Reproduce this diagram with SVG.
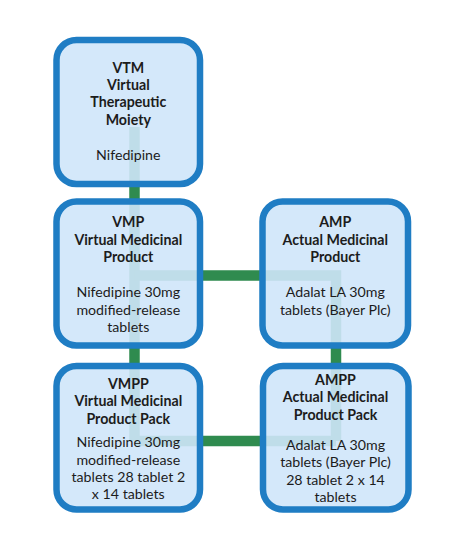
<svg xmlns="http://www.w3.org/2000/svg" width="465" height="549" viewBox="0 0 465 549">
<style>
.box{fill:#cfe6f9;fill-opacity:0.9;stroke:#1f7dc4;stroke-width:6.5}
.conn{fill:none;stroke:#2f8b4f;stroke-width:10.5}
text{font-family:Lato,"Open Sans","Liberation Sans",sans-serif;font-size:14.2px;fill:#1c1c1c;text-anchor:middle}
.b{font-weight:bold}
</style>
<rect width="465" height="549" fill="#ffffff"/>
<g id="connectors">
<path class="conn" d="M134.5,127 V441"/>
<path class="conn" d="M134.5,275.5 H336 V441"/>
<path class="conn" d="M134.5,441 H336"/>
</g>
<g id="vtm">
<rect class="box" x="56.5" y="40" width="143.5" height="144" rx="20"/>
<text class="b" x="128.3" y="73">VTM</text>
<text class="b" x="128.3" y="90">Virtual</text>
<text class="b" x="128.3" y="107">Therapeutic</text>
<text class="b" x="128.3" y="125">Moiety</text>
<text x="128.3" y="160">Nifedipine</text>
</g>
<g id="vmp">
<rect class="box" x="56.5" y="201.5" width="143.5" height="144" rx="20"/>
<text class="b" x="128.3" y="227">VMP</text>
<text class="b" x="128.3" y="244.5">Virtual Medicinal</text>
<text class="b" x="128.3" y="262">Product</text>
<text x="128.3" y="297">Nifedipine 30mg</text>
<text x="128.3" y="314.5">modified-release</text>
<text x="128.3" y="332">tablets</text>
</g>
<g id="amp">
<rect class="box" x="262.5" y="201.5" width="145.5" height="144" rx="20"/>
<text class="b" x="335.3" y="227">AMP</text>
<text class="b" x="335.3" y="244.5">Actual Medicinal</text>
<text class="b" x="335.3" y="262">Product</text>
<text x="335.3" y="297">Adalat LA 30mg</text>
<text x="335.3" y="314.5">tablets (Bayer Plc)</text>
</g>
<g id="vmpp">
<rect class="box" x="56.5" y="366" width="143.5" height="143.5" rx="20"/>
<text class="b" x="128.3" y="388.5">VMPP</text>
<text class="b" x="128.3" y="406">Virtual Medicinal</text>
<text class="b" x="128.3" y="423.5">Product Pack</text>
<text x="128.3" y="447">Nifedipine 30mg</text>
<text x="128.3" y="464.5">modified-release</text>
<text x="128.3" y="482">tablets 28 tablet 2</text>
<text x="128.3" y="499">x 14 tablets</text>
</g>
<g id="ampp">
<rect class="box" x="263" y="366" width="145.5" height="143.5" rx="20"/>
<text class="b" x="335.5" y="384.5">AMPP</text>
<text class="b" x="335.5" y="402">Actual Medicinal</text>
<text class="b" x="335.5" y="419.5">Product Pack</text>
<text x="335.5" y="449.5">Adalat LA 30mg</text>
<text x="335.5" y="467">tablets (Bayer Plc)</text>
<text x="335.5" y="484.5">28 tablet 2 x 14</text>
<text x="335.5" y="502">tablets</text>
</g>
</svg>
